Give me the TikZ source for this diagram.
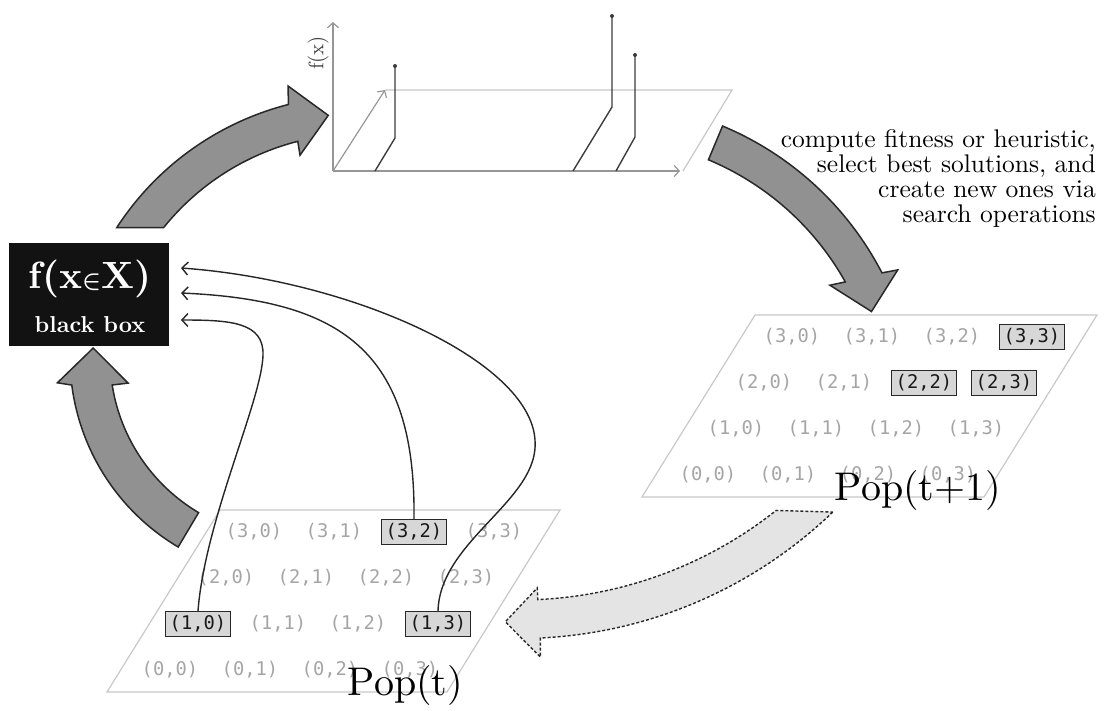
\documentclass[tikz,border=0pt]{standalone}
\usepackage{fontspec}
\newfontfamily\gridfont{DejaVu Sans Mono}
\newfontfamily\tenrm{lmroman10-regular}[Extension=.otf, BoldFont=lmroman10-bold]
\usetikzlibrary{arrows.meta,calc}
\definecolor{arrowgray}{RGB}{145,145,145}
\definecolor{edgegray}{RGB}{40,40,40}
\definecolor{planegray}{RGB}{200,200,200}
\definecolor{labgray}{RGB}{165,165,165}
\definecolor{axisgray}{RGB}{150,150,150}
\definecolor{stemgray}{RGB}{60,60,60}
\definecolor{selfill}{RGB}{215,215,215}
\definecolor{dashfill}{RGB}{228,228,228}
\begin{document}
\begin{tikzpicture}[x=1pt,y=-1pt,
  bigarrow/.style={fill=arrowgray, draw=edgegray, line width=1.5pt, line join=miter},
  dasharrow/.style={fill=dashfill, draw=edgegray, line width=1.4pt, dash pattern=on 3pt off 2pt},
  plane/.style={draw=planegray, line width=1.2pt},
  lab/.style={font=\gridfont\fontsize{18.8}{20}\selectfont, text=labgray, inner sep=0pt},
  sel/.style={font=\gridfont\fontsize{18.8}{20}\selectfont, text=black!90, fill=selfill, draw=edgegray, line width=1.2pt, minimum width=65pt, minimum height=25pt, inner sep=0pt},
  axis/.style={draw=axisgray, line width=1.2pt, -{Straight Barb[length=5pt,width=11pt]}},
  stem/.style={draw=stemgray, line width=1.4pt},
  conn/.style={draw=black!85, line width=1.4pt, -{Straight Barb[length=6pt,width=13pt]}},
  poptext/.style={font=\tenrm\fontsize{40}{44}\selectfont, inner sep=0pt, anchor=base}
]
\useasboundingbox (0,0) rectangle (1105,710);

% ---------- planes of the populations ----------
\draw[plane] (107,692) -- (447,692) -- (560,510) -- (220,510) -- cycle;
\draw[plane] (642,497) -- (984,497) -- (1097,315) -- (755,315) -- cycle;

% ---------- plot at the top ----------
\coordinate (o) at (333,171);
\coordinate (ytop) at (333,22);
\coordinate (xend) at (680,171);
\coordinate (zend) at (385,90);
\draw[plane] (zend) -- (732,90) -- (683,171);
\draw[axis] (o) -- (ytop);
\draw[axis] (o) -- (xend);
\draw[axis] (o) -- (zend);
\draw[stem] (375,171) -- (395,138) -- (395,66);
\fill[stemgray] (395,66) circle (2);
\draw[stem] (573,171) -- (612,107) -- (612,16);
\fill[stemgray] (612,16) circle (2);
\draw[stem] (616,171) -- (635,137) -- (635,55);
\fill[stemgray] (635,55) circle (2);
\node[rotate=90, font=\tenrm\fontsize{21}{21}\selectfont, text=black!75, inner sep=0pt] (fx) at (318,53) {f(x)};

% ---------- grid labels Pop(t) ----------
\coordinate (T0) at (170,670);
\foreach \r/\c in {0/0,0/1,0/2,0/3,1/1,1/2,2/0,2/1,2/2,2/3,3/0,3/1,3/3}
  \node[lab] (t\r\c) at ($(T0)+\c*(80,0)+\r*(28,-46)$) {(\r,\c)};
\node[sel] (t10) at ($(T0)+0*(80,0)+1*(28,-46)$) {(1,0)};
\node[sel] (t13) at ($(T0)+3*(80,0)+1*(28,-46)$) {(1,3)};
\node[sel] (t32) at ($(T0)+2*(80,0)+3*(28,-46)$) {(3,2)};

% ---------- grid labels Pop(t+1) ----------
\coordinate (U0) at (708,475);
\foreach \r/\c in {0/0,0/1,0/2,0/3,1/0,1/1,1/2,1/3,2/0,2/1,3/0,3/1,3/2}
  \node[lab] (u\r\c) at ($(U0)+\c*(80,0)+\r*(28,-46)$) {(\r,\c)};
\node[sel] (u22) at ($(U0)+2*(80,0)+2*(28,-46)$) {(2,2)};
\node[sel] (u23) at ($(U0)+3*(80,0)+2*(28,-46)$) {(2,3)};
\node[sel] (u33) at ($(U0)+3*(80,0)+3*(28,-46)$) {(3,3)};

% ---------- big curved arrows ----------
\begin{scope}[shift={(360,385.5)}]
\draw[bigarrow] (-147:290) arc[start angle=-147,end angle=-104.3,radius=290]
  -- (-103.5:308) -- (-96.7:272) -- (-104.6:238) -- (-104.3:252)
  arc[start angle=-104.3,end angle=-141.2,radius=252] -- cycle;
\end{scope}
\begin{scope}[shift={(600,419)}]
\draw[bigarrow] (-67.3:317.6) arc[start angle=-67.3,end angle=-27.4,radius=317.6]
  -- (-26.6:333) -- (-21.6:292) -- (-30.2:266) -- (-29.2:281)
  arc[start angle=-29.2,end angle=-67.3,radius=281] -- cycle;
\end{scope}
\begin{scope}[shift={(291,357)}]
\draw[bigarrow] (120.7:221) arc[start angle=120.7,end angle=172.7,radius=221]
  -- (173.7:235) -- (182.6:198) -- (170.9:165) -- (171.1:181)
  arc[start angle=171.1,end angle=120.7,radius=181] -- cycle;
\end{scope}
\begin{scope}[shift={(519,186)}]
\draw[dasharrow] (46.1:452.5) arc[start angle=46.1,end angle=87.3,radius=452.5]
  -- (87.4:471.5) -- (91.8:436) -- (87.4:402.4) -- (87.4:414)
  arc[start angle=87.4,end angle=51.6,radius=414] -- cycle;
\end{scope}

% ---------- black box ----------
\node[fill=black!93, minimum width=160pt, minimum height=103pt, inner sep=0pt] (bb) at (89,294.5) {};
\node[text=white, font=\tenrm\bfseries\fontsize{38}{38}\selectfont, inner sep=0pt] (bbt) at (90,279) {f(x{\boldmath$\in$}X)};
\node[text=white, font=\tenrm\bfseries\fontsize{23}{23}\selectfont, inner sep=0pt] (bbs) at (90,325) {black box};

% ---------- evaluation connectors ----------
\coordinate (e1) at (181,268);
\coordinate (e2) at (181,293);
\coordinate (e3) at (181,320);
\draw[conn] (t13.north) .. controls (440,540) and (540,500) .. (535,440)
  .. controls (530,360) and (350,280) .. (e1);
\draw[conn] (t32.north) .. controls (416,350) and (340,300) .. (e2);
\draw[conn] (t10.north) .. controls (205,520) and (262,400) .. (263,355)
  .. controls (264,322) and (230,320) .. (e3);

% ---------- texts ----------
\node[poptext] (popt1) at (918,500) {Pop(t+1)};
\node[poptext] (popt) at (405.5,695) {Pop(t)};
\node[anchor=north east, align=right, font=\tenrm\fontsize{25.5}{25}\selectfont, inner sep=0pt] (desc) at (1096,129)
  {compute fitness or heuristic,\\ select best solutions, and\\ create new ones via\\ search operations};
\end{tikzpicture}
\end{document}
